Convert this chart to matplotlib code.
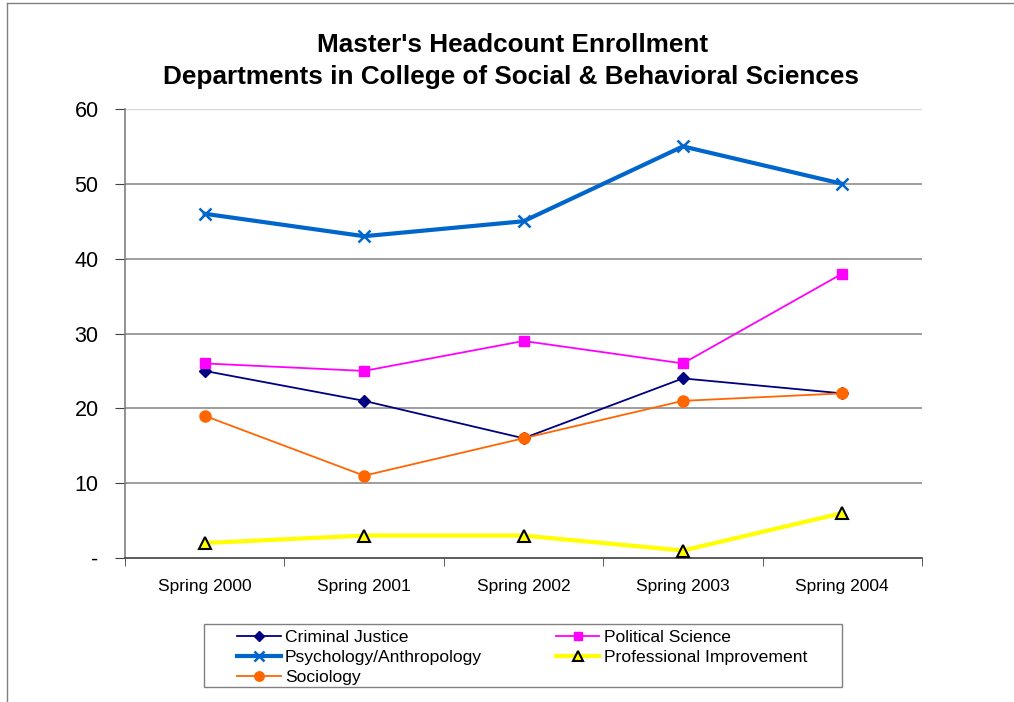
import matplotlib
matplotlib.use("Agg")
import matplotlib.pyplot as plt
from matplotlib.ticker import FixedLocator
from matplotlib.lines import Line2D
from matplotlib.patches import Rectangle

plt.rcParams['font.family'] = ['Liberation Sans', 'DejaVu Sans']

categories = ["Spring 2000", "Spring 2001", "Spring 2002", "Spring 2003", "Spring 2004"]
criminal_justice = [25, 21, 16, 24, 22]
political_science = [26, 25, 29, 26, 38]
psych_anth = [46, 43, 45, 55, 50]
prof_improvement = [2, 3, 3, 1, 6]
sociology = [19, 11, 16, 21, 22]
yticks = [0, 10, 20, 30, 40, 50, 60]
ytick_labels = ["-", "10", "20", "30", "40", "50", "60"]

W, H = 1014, 702
fig = plt.figure(figsize=(W/100, H/100), dpi=100)
ax = fig.add_axes([125/W, 1-558/H, (922-125)/W, (558-109)/H])

x = list(range(len(categories)))

ax.plot(x, criminal_justice, color='#000080', lw=1.3, marker='D', ms=6, label='Criminal Justice', zorder=4)
ax.plot(x, psych_anth, color='#0066CC', lw=3, marker='x', ms=9, mew=1.8, label='Psychology/Anthropology', zorder=3)
ax.plot(x, sociology, color='#FF6600', lw=1.3, marker='o', ms=8, label='Sociology', zorder=5)
ax.plot(x, political_science, color='#FF00FF', lw=1.3, marker='s', ms=7.5, label='Political Science', zorder=4)
ax.plot(x, prof_improvement, color='#FFFF00', lw=3, marker='^', ms=8, mfc='#FFFF00', mec='black', mew=1.5,
        label='Professional Improvement', zorder=4)

ax.set_xlim(-0.5, len(categories) - 0.5)
ax.set_ylim(0, 60)
ax.set_yticks(yticks)
ax.set_yticklabels(ytick_labels, fontsize=15.5)
ax.set_xticks(x)
ax.set_xticklabels(categories, fontsize=12.5)
ax.tick_params(axis='x', which='major', length=0, pad=15)
ax.xaxis.set_minor_locator(FixedLocator([i - 0.5 for i in range(len(categories) + 1)]))
ax.tick_params(axis='x', which='minor', length=6, color='#404040', direction='out')
ax.tick_params(axis='y', length=7, color='#404040', direction='out', pad=12)

for y in yticks[1:-1]:
    ax.axhline(y, color='#8c8c8c', lw=1.2, zorder=1)
ax.axhline(60, color='#d8d8d8', lw=1.0, zorder=1)

ax.spines['top'].set_visible(False)
ax.spines['right'].set_visible(False)
ax.spines['left'].set_color('#808080')
ax.spines['left'].set_linewidth(1.2)
ax.spines['bottom'].set_color('#404040')
ax.spines['bottom'].set_linewidth(1.2)

fig.text(513/W, 1-45/H, "Master's Headcount Enrollment", ha='center', va='center',
         fontsize=18.8, fontweight='bold')
fig.text(511/W, 1-77/H, "Departments in College of Social & Behavioral Sciences", ha='center', va='center',
         fontsize=18.8, fontweight='bold')

handles, labels = ax.get_legend_handles_labels()
leg = fig.legend(handles, labels, ncol=2, loc='upper left',
                 bbox_to_anchor=(237/W, 1-630/H), fontsize=12.6, frameon=False,
                 handlelength=2.5, handletextpad=0.25, borderaxespad=0.0,
                 labelspacing=0.27, columnspacing=4.2, borderpad=0.0, markerscale=0.85)

fig.add_artist(Rectangle((204/W, 1-687/H), (842-204)/W, (687-624)/H, fill=False,
                         edgecolor='#808080', lw=1.0, transform=fig.transFigure))

# outer frame lines
fig.add_artist(Line2D([7/W, 7/W], [0, 1-3/H], color='#808080', lw=1, transform=fig.transFigure))
fig.add_artist(Line2D([7/W, 1], [1-3/H, 1-3/H], color='#808080', lw=1, transform=fig.transFigure))

fig.savefig('out.png', dpi=100)
